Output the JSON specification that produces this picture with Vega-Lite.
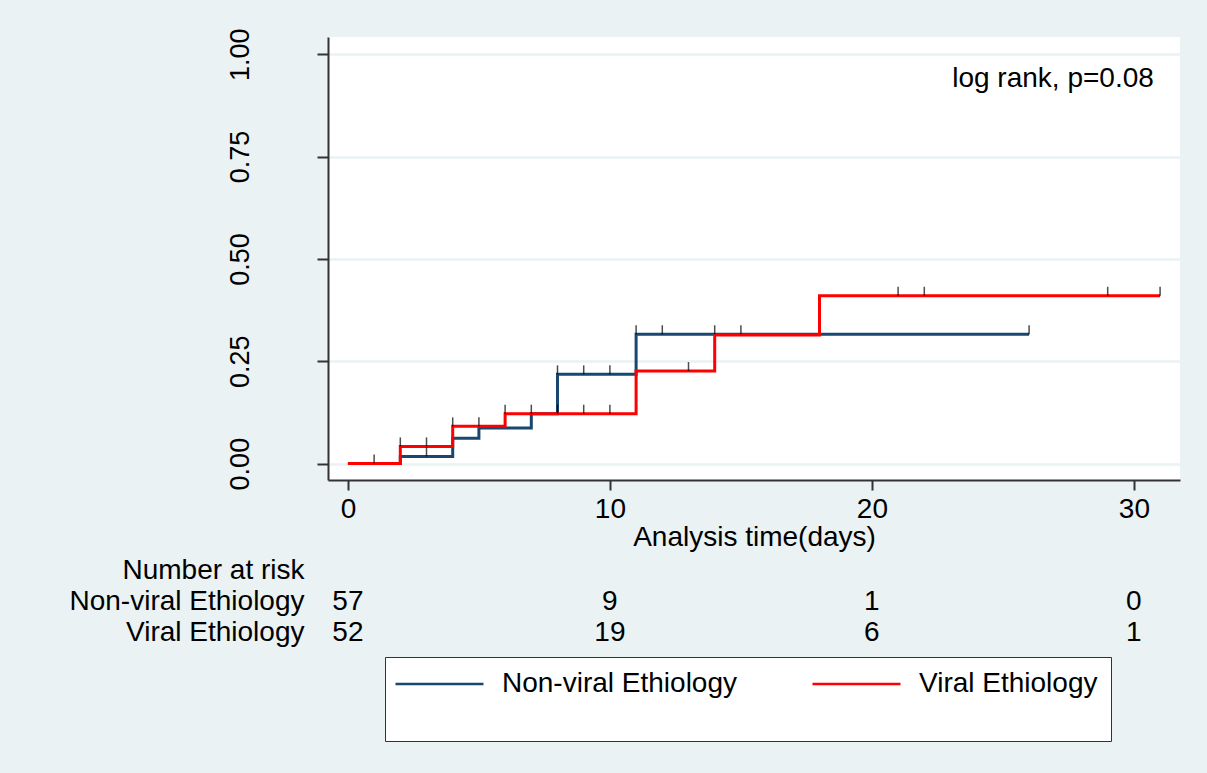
{
  "$schema": "https://vega.github.io/schema/vega-lite/v6.json",
  "background": "#eaf2f3",
  "padding": {"left": 69, "top": 27, "right": 27, "bottom": 32},
  "config": {
    "font": "Liberation Sans",
    "view": {"stroke": null},
    "axis": {"labelColor": "#000", "titleColor": "#000", "labelFont": "Liberation Sans", "titleFont": "Liberation Sans", "titleFontWeight": "normal"},
    "legend": {"labelColor": "#000", "labelFont": "Liberation Sans"}
  },
  "datasets": {
    "km": [
      {"group": "Non-viral Ethiology", "t": 0, "v": 0},
      {"group": "Non-viral Ethiology", "t": 2, "v": 0.0175},
      {"group": "Non-viral Ethiology", "t": 4, "v": 0.062},
      {"group": "Non-viral Ethiology", "t": 5, "v": 0.087},
      {"group": "Non-viral Ethiology", "t": 7, "v": 0.122},
      {"group": "Non-viral Ethiology", "t": 8, "v": 0.218},
      {"group": "Non-viral Ethiology", "t": 11, "v": 0.316},
      {"group": "Non-viral Ethiology", "t": 26, "v": 0.316},
      {"group": "Viral Ethiology", "t": 0, "v": 0},
      {"group": "Viral Ethiology", "t": 2, "v": 0.042},
      {"group": "Viral Ethiology", "t": 4, "v": 0.091},
      {"group": "Viral Ethiology", "t": 6, "v": 0.122},
      {"group": "Viral Ethiology", "t": 11, "v": 0.226},
      {"group": "Viral Ethiology", "t": 14, "v": 0.314},
      {"group": "Viral Ethiology", "t": 18, "v": 0.41},
      {"group": "Viral Ethiology", "t": 31, "v": 0.41}
    ],
    "censored": [
      {"group": "Non-viral Ethiology", "t": 3, "v": 0.0175},
      {"group": "Non-viral Ethiology", "t": 8, "v": 0.218},
      {"group": "Non-viral Ethiology", "t": 9, "v": 0.218},
      {"group": "Non-viral Ethiology", "t": 10, "v": 0.218},
      {"group": "Non-viral Ethiology", "t": 11, "v": 0.316},
      {"group": "Non-viral Ethiology", "t": 12, "v": 0.316},
      {"group": "Non-viral Ethiology", "t": 14, "v": 0.316},
      {"group": "Non-viral Ethiology", "t": 15, "v": 0.316},
      {"group": "Non-viral Ethiology", "t": 26, "v": 0.316},
      {"group": "Viral Ethiology", "t": 1, "v": 0},
      {"group": "Viral Ethiology", "t": 2, "v": 0.042},
      {"group": "Viral Ethiology", "t": 3, "v": 0.042},
      {"group": "Viral Ethiology", "t": 4, "v": 0.091},
      {"group": "Viral Ethiology", "t": 5, "v": 0.091},
      {"group": "Viral Ethiology", "t": 6, "v": 0.122},
      {"group": "Viral Ethiology", "t": 7, "v": 0.122},
      {"group": "Viral Ethiology", "t": 8, "v": 0.122},
      {"group": "Viral Ethiology", "t": 9, "v": 0.122},
      {"group": "Viral Ethiology", "t": 10, "v": 0.122},
      {"group": "Viral Ethiology", "t": 13, "v": 0.226},
      {"group": "Viral Ethiology", "t": 21, "v": 0.41},
      {"group": "Viral Ethiology", "t": 22, "v": 0.41},
      {"group": "Viral Ethiology", "t": 29, "v": 0.41},
      {"group": "Viral Ethiology", "t": 31, "v": 0.41}
    ],
    "risk": [
      {"group": "Non-viral Ethiology", "t": 0, "n": 57},
      {"group": "Non-viral Ethiology", "t": 10, "n": 9},
      {"group": "Non-viral Ethiology", "t": 20, "n": 1},
      {"group": "Non-viral Ethiology", "t": 30, "n": 0},
      {"group": "Viral Ethiology", "t": 0, "n": 52},
      {"group": "Viral Ethiology", "t": 10, "n": 19},
      {"group": "Viral Ethiology", "t": 20, "n": 6},
      {"group": "Viral Ethiology", "t": 30, "n": 1}
    ]
  },
  "spacing": 4,
  "resolve": {"scale": {"color": "shared"}, "legend": {"color": "shared"}},
  "vconcat": [
    {
      "width": 852,
      "height": 443,
      "view": {"fill": "#ffffff", "stroke": null},
      "layer": [
        {
          "data": {"name": "km"},
          "mark": {"type": "line", "interpolate": "step-after", "strokeWidth": 3},
          "encoding": {
            "x": {"field": "t", "type": "quantitative",
              "scale": {"domain": [-0.76, 31.76], "nice": false, "zero": false},
              "axis": {"title": "Analysis time(days)", "values": [0, 10, 20, 30], "grid": false,
                "tickSize": 10, "tickWidth": 2, "tickColor": "#333", "domainColor": "#333", "domainWidth": 2,
                "labelFontSize": 28, "titleFontSize": 28, "labelPadding": 5, "titlePadding": 0}},
            "y": {"field": "v", "type": "quantitative",
              "scale": {"domain": [-0.04, 1.042], "nice": false, "zero": false},
              "axis": {"title": null, "values": [0, 0.25, 0.5, 0.75, 1], "format": ".2f",
                "labelAngle": 270, "labelAlign": "center", "labelBaseline": "alphabetic",
                "labelFontSize": 27, "labelPadding": 69,
                "tickSize": 11, "tickWidth": 2, "tickColor": "#333", "domainColor": "#333", "domainWidth": 2,
                "grid": true, "gridColor": "#eaf2f3", "gridWidth": 2.5}},
            "color": {"field": "group", "type": "nominal",
              "scale": {"domain": ["Non-viral Ethiology", "Viral Ethiology"], "range": ["#1a476f", "#ff0000"]},
              "legend": {"orient": "none", "legendX": 57, "legendY": 620, "direction": "horizontal",
                "title": "\u00a0", "titleOrient": "bottom", "titleFontSize": 24, "titlePadding": 6,
                "symbolType": "M-1.5,0H6.5", "symbolSize": 484, "symbolStrokeWidth": 2.5,
                "labelFontSize": 28, "labelOffset": 76, "labelLimit": 500, "columnPadding": 70, "padding": 13,
                "fillColor": "#ffffff", "strokeColor": "#333"}}
          }
        },
        {
          "data": {"name": "censored"},
          "mark": {"type": "tick", "orient": "vertical", "size": 9, "thickness": 1.5, "color": "#000", "yOffset": -4.5},
          "encoding": {
            "x": {"field": "t", "type": "quantitative"},
            "y": {"field": "v", "type": "quantitative"}
          }
        },
        {
          "data": {"values": [{"label": "log rank, p=0.08"}]},
          "mark": {"type": "text", "align": "right", "baseline": "alphabetic", "fontSize": 28, "color": "#000"},
          "encoding": {
            "x": {"datum": 30.76},
            "y": {"datum": 0.92},
            "text": {"field": "label"}
          }
        }
      ]
    },
    {
      "width": 852,
      "height": 93,
      "data": {"name": "risk"},
      "mark": {"type": "text", "fontSize": 28, "color": "#000", "baseline": "middle"},
      "encoding": {
        "x": {"field": "t", "type": "quantitative",
          "scale": {"domain": [-0.76, 31.76], "nice": false, "zero": false}, "axis": null},
        "y": {"field": "group", "type": "nominal",
          "scale": {"domain": ["Number at risk", "Non-viral Ethiology", "Viral Ethiology"], "paddingInner": 0, "paddingOuter": 0},
          "axis": {"title": null, "domain": false, "ticks": false, "labelFontSize": 28, "labelPadding": 24, "labelAlign": "right", "labelLimit": 500}},
        "text": {"field": "n", "type": "quantitative"}
      }
    }
  ]
}
